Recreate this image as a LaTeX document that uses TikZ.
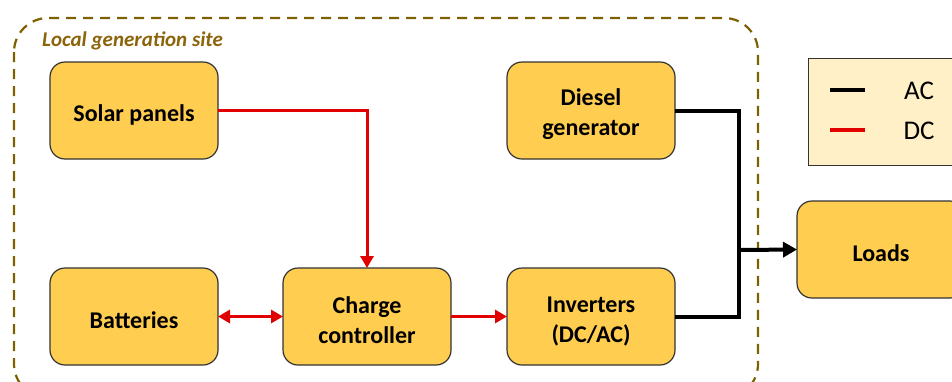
\documentclass[tikz,border=0pt]{standalone}
\usepackage{fontspec}
\setmainfont{Carlito}
\usetikzlibrary{arrows.meta}
\definecolor{boxfill}{RGB}{255,205,80}
\definecolor{siteline}{RGB}{127,96,0}
\definecolor{sitetext}{RGB}{140,100,10}
\definecolor{legfill}{RGB}{255,240,200}
\definecolor{dcred}{RGB}{225,0,0}
\newcommand\txtdrop{\rule{0pt}{25pt}}
\begin{document}
\begin{tikzpicture}[x=1pt,y=-1pt,
  blk/.style={draw=black!80,line width=1.2pt,fill=boxfill,rounded corners=15pt,
    minimum width=168pt,minimum height=97pt,align=center,inner sep=0pt,outer sep=0pt,
    font=\fontsize{24}{30}\selectfont\bfseries,anchor=north west},
  dcline/.style={draw=dcred,line width=3pt},
  acline/.style={draw=black,line width=4pt},
  rtip/.style={-{Triangle[length=12pt,width=13pt]}},
  btip/.style={-{Triangle[length=14pt,width=15pt]}},
  dtip/.style={{Triangle[length=12pt,width=13pt]}-{Triangle[length=12pt,width=13pt]}},
  legtext/.style={font=\fontsize{27}{30}\selectfont,anchor=center}]
\useasboundingbox (0,0) rectangle (952,381);
\clip (0,0) rectangle (952,381);
\fill[white] (0,0) rectangle (952,381);
% site boundary
\draw[siteline,line width=2.2pt,dash pattern=on 10pt off 7pt,rounded corners=34pt]
  (14,18) rectangle (758,398);
\node[anchor=west,text=sitetext,font=\fontsize{21}{24}\selectfont\bfseries\itshape,inner sep=0pt]
  (sitelabel) at (42,41) {Local generation site};
% blocks
\node[blk] (solar) at (50,62) {\txtdrop Solar panels};
\node[blk] (diesel) at (507,62) {\txtdrop Diesel\\generator};
\node[blk] (batt) at (50,268) {\txtdrop Batteries};
\node[blk] (cc) at (283,268) {\txtdrop Charge\\controller};
\node[blk] (inv) at (507,268) {\txtdrop Inverters\\(DC/AC)};
\node[blk] (loads) at (797,201) {\txtdrop Loads};
% legend
\node[draw=black!80,line width=1.2pt,fill=legfill,anchor=north west,minimum width=170pt,
  minimum height=107pt,inner sep=0pt] (legend) at (808,58) {};
\coordinate (acA) at (830,90); \coordinate (acB) at (865,90);
\coordinate (dcA) at (830,130); \coordinate (dcB) at (865,130);
\draw[acline] (acA) -- (acB);
\draw[dcline,line width=3.5pt] (dcA) -- (dcB);
\node[legtext] (aclabel) at (919,91) {AC};
\node[legtext] (dclabel) at (919,131) {DC};
% DC connectors
\draw[dcline,rtip] (solar.east) -| (cc.north);
\draw[dcline,dtip] (batt.east) -- (cc.west);
\draw[dcline,rtip] (cc.east) -- (inv.west);
% AC connectors
\coordinate (bus) at (739,250);
\draw[acline,line join=miter] (diesel.east) -| (bus) |- (inv.east);
\draw[acline,btip] (bus) -- (loads.west);
\end{tikzpicture}
\end{document}
